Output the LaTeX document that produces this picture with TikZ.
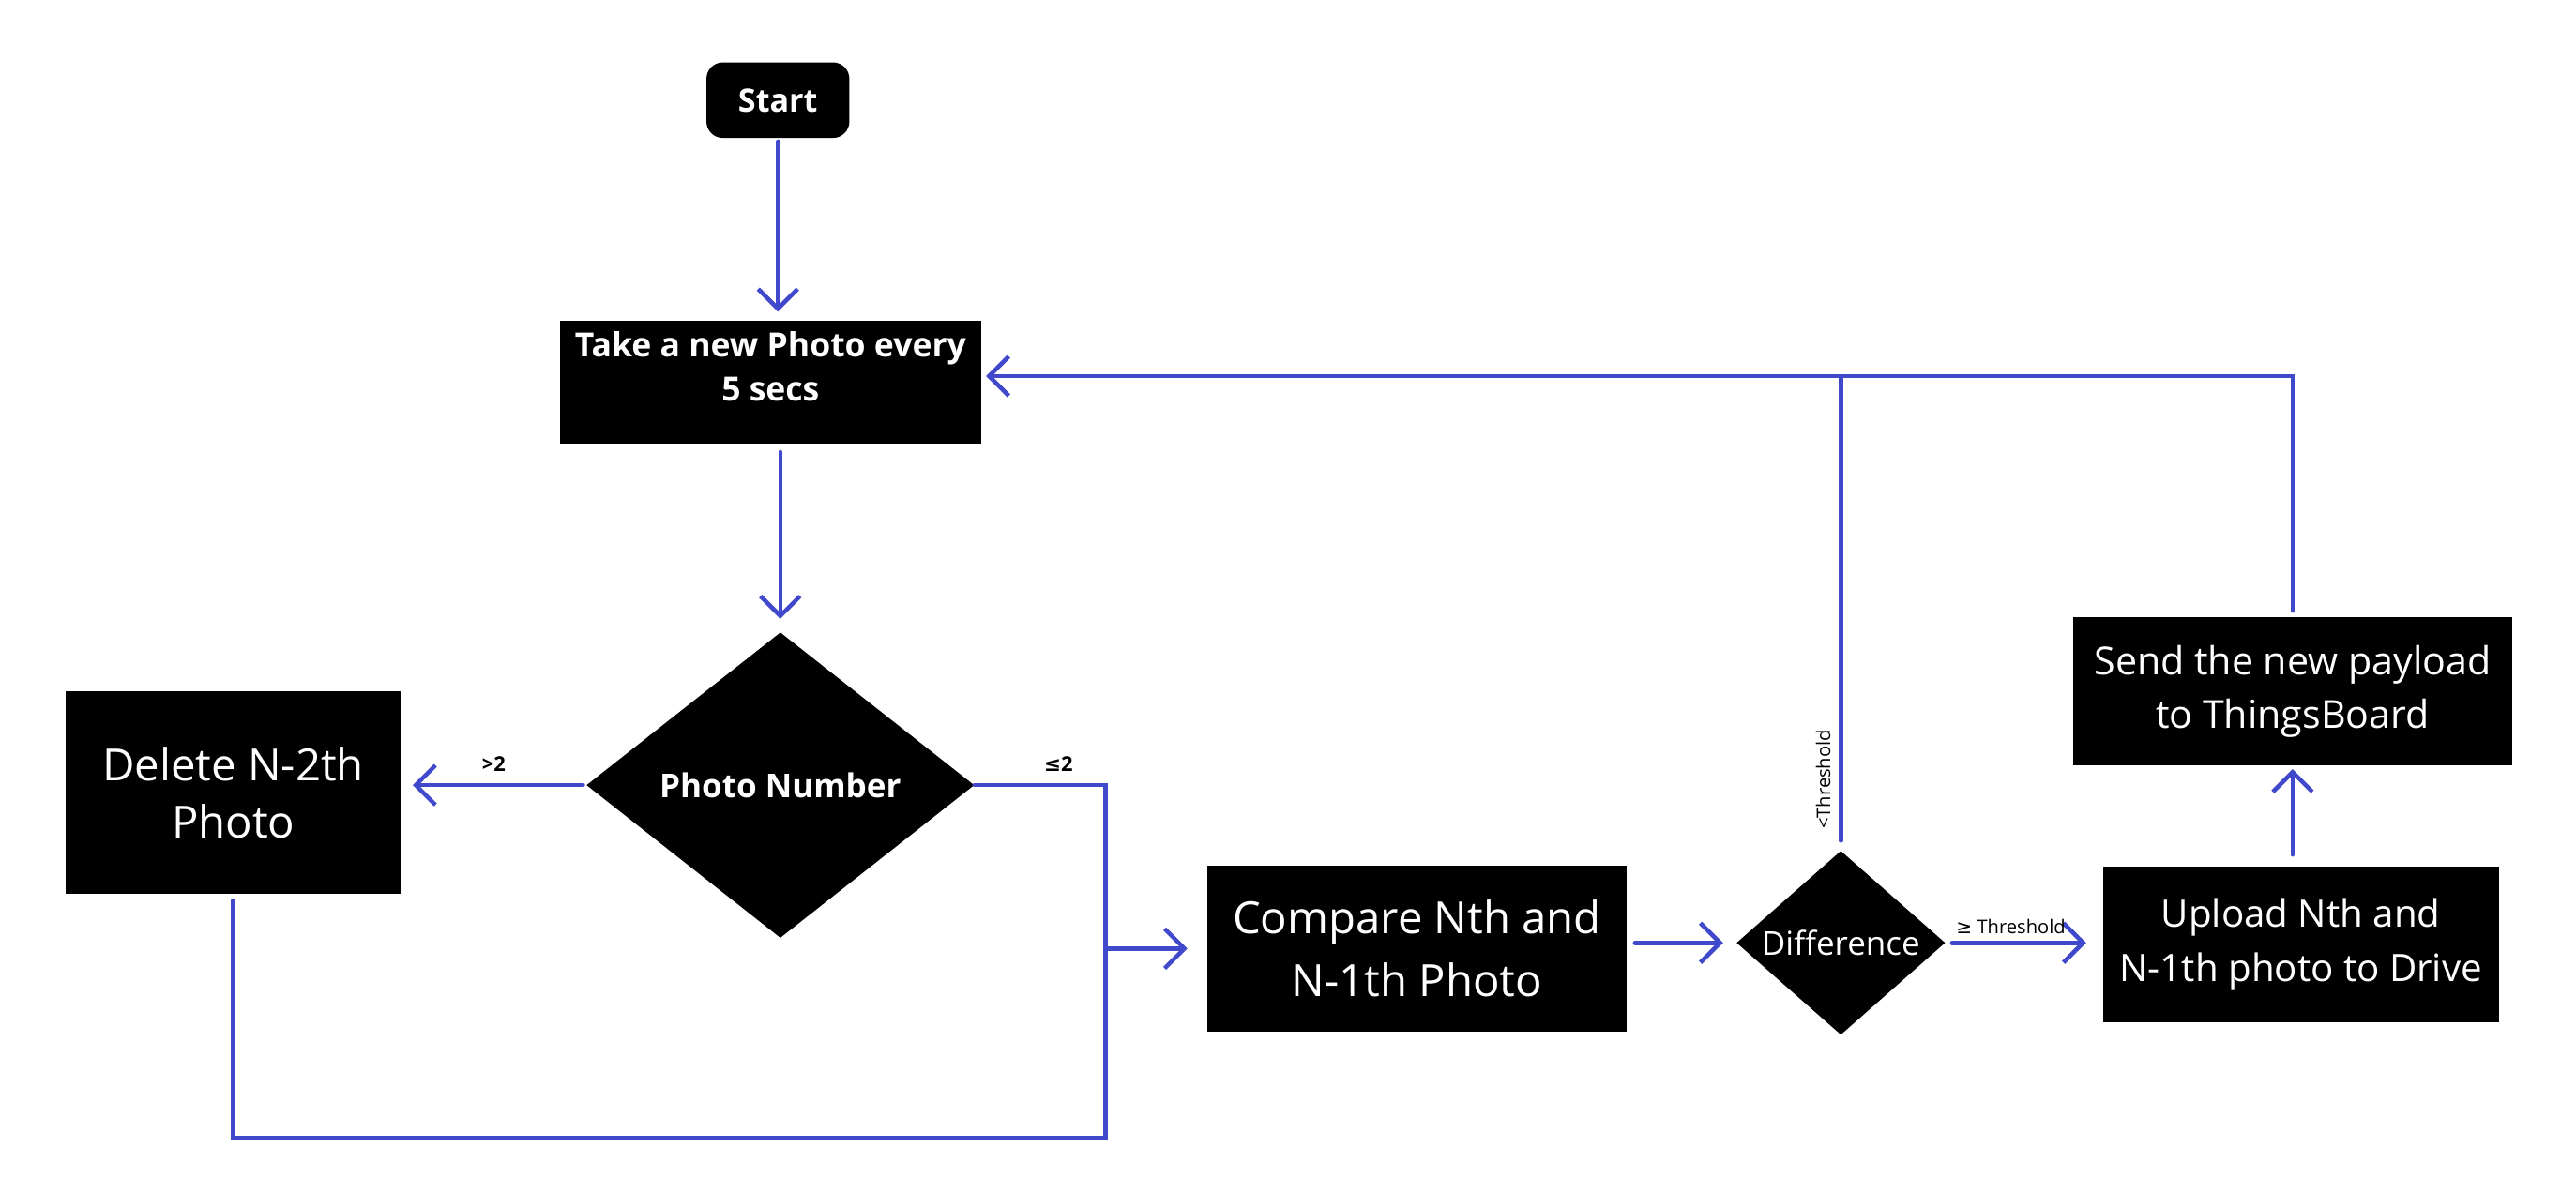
\documentclass[tikz,border=0pt]{standalone}
\usepackage{fontspec}
\setmainfont{Open Sans}
\newfontfamily\symfont{DejaVu Sans}
\usetikzlibrary{arrows.meta, shapes.geometric, calc}
\definecolor{flowblue}{RGB}{64,72,204}
\tikzset{>={Straight Barb[length=12pt,width=24pt]}}
\tikzset{
  box/.style={fill=black, text=white, align=center, inner sep=0pt},
  decision/.style={diamond, fill=black, text=white, inner sep=0pt},
  flow/.style={flowblue, line width=2.6pt, line cap=round},
  lbl/.style={black, inner sep=0pt, font=\fontsize{11.5}{13}\selectfont}
}

\begin{document}
\begin{tikzpicture}[x=1pt,y=-1pt]
\useasboundingbox (0,0) rectangle (1568,726.3);

\node [box, rounded corners=10pt, minimum width=87pt, minimum height=46pt, font=\fontsize{19.5}{24}\selectfont\bfseries] (start) at (473.5,61) {Start};
\node [box, minimum width=256pt, minimum height=75pt, font=\fontsize{20.3}{27}\selectfont\bfseries] (take) at (469,232.5) {Take a new Photo every\\5 secs\\[-8pt]};
\node [decision, minimum width=236pt, minimum height=186pt, font=\fontsize{20}{24}\selectfont\bfseries] (photo) at (475,478) {Photo Number};
\node [box, minimum width=204pt, minimum height=123pt, font=\fontsize{27}{35}\selectfont] (delete) at (142,482.5) {Delete N-2th\\Photo};
\node [box, minimum width=255pt, minimum height=101pt, font=\fontsize{27}{38}\selectfont] (compare) at (862.5,577.5) {Compare Nth and\\N-1th Photo};
\node [decision, minimum width=127pt, minimum height=112pt, font=\fontsize{20}{24}\selectfont] (diff) at (1120.5,574) {Difference};
\node [box, minimum width=241pt, minimum height=95pt, font=\fontsize{23}{33}\selectfont] (upload) at (1400.5,575) {Upload Nth and\\N-1th photo to Drive};
\node [box, minimum width=267pt, minimum height=90pt, font=\fontsize{23.5}{33}\selectfont] (send) at (1395.5,421) {Send the new payload\\to ThingsBoard};

% main line
\draw [flow,->,shorten <=2pt,shorten >=5pt] (start) -- (start |- take.north);
\draw [flow,->,shorten <=5pt,shorten >=8pt] (take.south -| photo) -- (photo);
\draw [flow,->,shorten <=2pt,shorten >=7pt] (photo.west) -- node[lbl, above=7pt, font=\fontsize{12.5}{14}\selectfont\bfseries]{>2} (photo.west -| delete.east);

% loop back under the photo number
\coordinate (loopR) at (673,693);
\draw [flow] (photo.east) -- node[lbl, above=7pt, pos=0.64, font=\fontsize{12.5}{14}\selectfont\bfseries]{{\symfont ≤}2} (photo.east -| loopR) -- (loopR) -| ([yshift=-4pt]delete.south);
\draw [flow,->,shorten >=12pt] (loopR |- compare.west) -- (compare.west);

\draw [flow,->,shorten <=5pt,shorten >=8pt] (compare.east |- diff) -- (diff.west);
\draw [flow,->,shorten <=4pt,shorten >=10pt] (diff.east) -- node[lbl, above=4pt, xshift=-8pt]{{\symfont ≥} Threshold} (diff.east -| upload.west);
\draw [flow,->,shorten <=7pt,shorten >=2pt] (send.south |- upload.north) -- (send.south);

% back to the camera
\coordinate (back) at ([yshift=3.5pt]take.east);
\draw [flow,->,shorten >=3pt] ([yshift=4pt]send.north) |- (back);
\draw [flow,shorten <=6pt] (diff.north) -- node[lbl, rotate=90, anchor=south, pos=0.15, yshift=5pt]{<Threshold} (diff.north |- back);
\end{tikzpicture}
\end{document}
